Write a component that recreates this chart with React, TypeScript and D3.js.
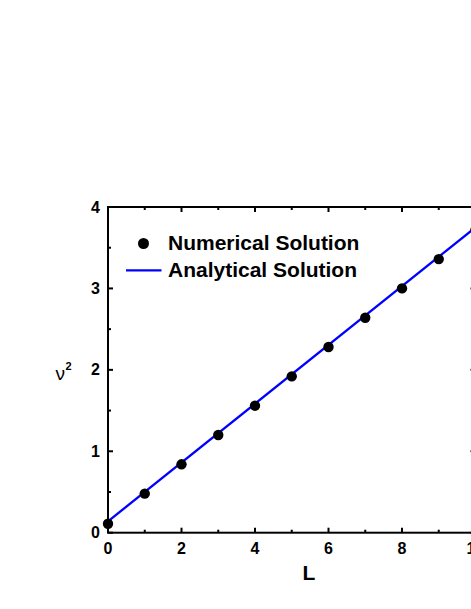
import React, { useEffect, useRef } from "react";
import * as d3 from "d3";

const lValues = [0, 1, 2, 3, 4, 5, 6, 7, 8, 9, 10];
const numerical = [0.11, 0.48, 0.84, 1.2, 1.56, 1.92, 2.28, 2.64, 3.0, 3.36, 3.72];
const analyticalL = [0, 10];
const analytical = [0.14, 3.75];
const xTicks = [0, 2, 4, 6, 8, 10];
const yTicks = [0, 1, 2, 3, 4];

const W = 471;
const H = 609;
const left = 108;
const right = 475.5;
const top = 207;
const bottom = 532.7;

export default function App() {
  const ref = useRef<SVGSVGElement>(null);

  useEffect(() => {
    const svg = d3.select(ref.current);
    svg.selectAll("*").remove();

    const x = d3.scaleLinear().domain([0, 10]).range([left, right]);
    const y = d3.scaleLinear().domain([0, 4]).range([bottom, top]);
    const font = "'Liberation Sans', Arial, sans-serif";

    const g = svg.append("g");

    // analytical line
    const ln = d3
      .line<number>()
      .x((d, i) => x(analyticalL[i]))
      .y((d) => y(d));
    g.append("path")
      .attr("d", ln(analytical))
      .attr("fill", "none")
      .attr("stroke", "#0000ff")
      .attr("stroke-width", 2.3);

    // numerical points
    g.selectAll("circle.pt")
      .data(numerical)
      .enter()
      .append("circle")
      .attr("class", "pt")
      .attr("cx", (d, i) => x(lValues[i]))
      .attr("cy", (d) => y(d))
      .attr("r", 5.2)
      .attr("fill", "#000");

    // axes with inward ticks
    const axisG = svg.append("g").attr("stroke", "#000").attr("stroke-width", 2);
    axisG.append("rect")
      .attr("x", left)
      .attr("y", top)
      .attr("width", right - left)
      .attr("height", bottom - top)
      .attr("fill", "none");

    const xMinor = d3.range(0, 10.01, 1);
    xMinor.forEach((v) => {
      const len = v % 2 === 0 ? 5 : 3;
      axisG.append("line").attr("x1", x(v)).attr("x2", x(v)).attr("y1", bottom).attr("y2", bottom - len);
      axisG.append("line").attr("x1", x(v)).attr("x2", x(v)).attr("y1", top).attr("y2", top + len);
    });
    const yMinor = d3.range(0, 4.01, 0.5);
    yMinor.forEach((v) => {
      const len = v % 1 === 0 ? 5 : 3;
      axisG.append("line").attr("y1", y(v)).attr("y2", y(v)).attr("x1", left).attr("x2", left + len);
      axisG.append("line").attr("y1", y(v)).attr("y2", y(v)).attr("x1", right).attr("x2", right - len);
    });

    // tick labels
    svg.append("g")
      .selectAll("text")
      .data(xTicks)
      .enter()
      .append("text")
      .attr("x", (d) => x(d))
      .attr("y", bottom + 21.5)
      .attr("text-anchor", "middle")
      .attr("font-family", font)
      .attr("font-weight", "bold")
      .attr("font-size", 16)
      .text((d) => d);

    svg.append("g")
      .selectAll("text")
      .data(yTicks)
      .enter()
      .append("text")
      .attr("x", left - 8)
      .attr("y", (d) => y(d) + 5.5)
      .attr("text-anchor", "end")
      .attr("font-family", font)
      .attr("font-weight", "bold")
      .attr("font-size", 16)
      .text((d) => d);

    // axis titles
    svg.append("text")
      .attr("x", 309)
      .attr("y", 580)
      .attr("text-anchor", "middle")
      .attr("font-family", font)
      .attr("font-weight", "bold")
      .attr("font-size", 21)
      .text("L");

    const yl = svg.append("text")
      .attr("x", 55.5)
      .attr("y", 380)
      .attr("font-family", font)
      .attr("font-size", 19);
    yl.append("tspan").text("ν");
    yl.append("tspan")
      .attr("dx", 0.5)
      .attr("dy", -10)
      .attr("font-weight", "bold")
      .attr("font-size", 11)
      .text("2");

    // legend
    const lg = svg.append("g");
    lg.append("circle").attr("cx", 143.5).attr("cy", 243.5).attr("r", 5.5).attr("fill", "#000");
    lg.append("text")
      .attr("x", 168)
      .attr("y", 250)
      .attr("font-family", font)
      .attr("font-weight", "bold")
      .attr("font-size", 21)
      .text("Numerical Solution");
    lg.append("line")
      .attr("x1", 126)
      .attr("x2", 161.5)
      .attr("y1", 270.3)
      .attr("y2", 270.3)
      .attr("stroke", "#0000ff")
      .attr("stroke-width", 2.3);
    lg.append("text")
      .attr("x", 168)
      .attr("y", 277)
      .attr("font-family", font)
      .attr("font-weight", "bold")
      .attr("font-size", 21)
      .text("Analytical Solution");
  }, []);

  return (
    <svg
      ref={ref}
      width={W}
      height={H}
      style={{ position: "absolute", left: 0, top: 0, background: "#fff" }}
    />
  );
}
